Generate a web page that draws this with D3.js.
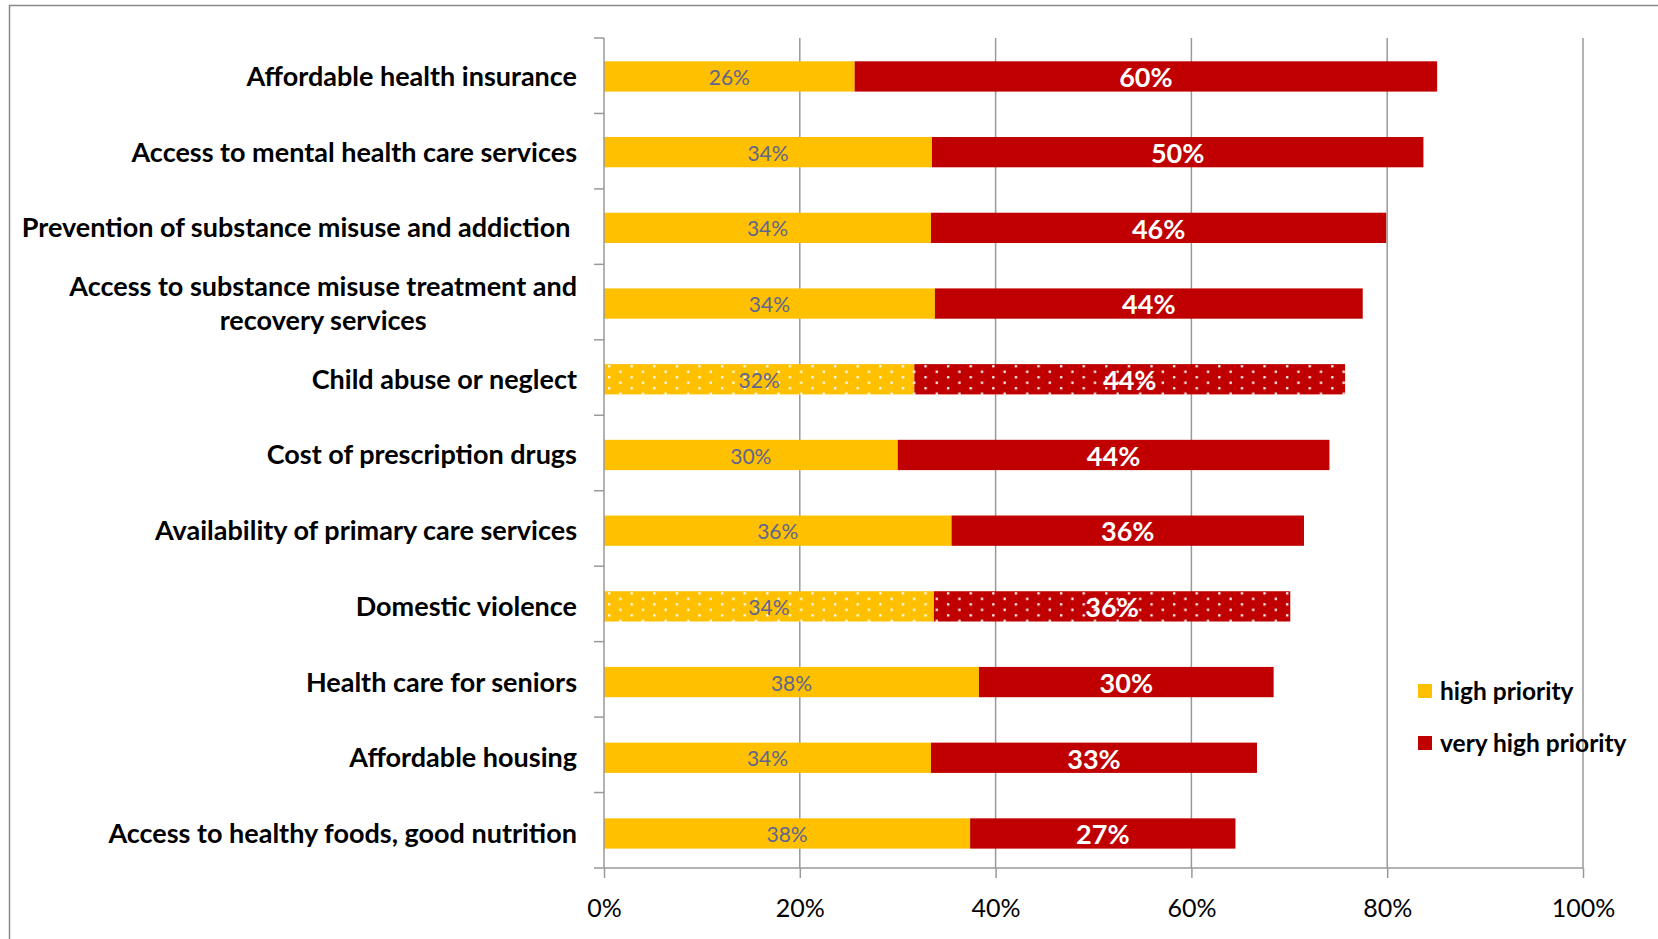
<!DOCTYPE html>
<html lang="en">
<head>
	<meta charset="UTF-8">
	<title>Health priorities</title>
	<style type="text/css">
		body{
			margin: 0;
			background: #fff;
			font-family: Lato, "Open Sans", sans-serif;
		}
		.grid line { stroke: #999; stroke-width: 1.5; }
		.axis path, .axis line { fill: none; stroke: #999; stroke-width: 1.5; }
		.axis text { fill: #000; }
		.cat { font-weight: bold; font-size: 27px; fill: #000; white-space: pre; }
	</style>
	<script src="https://d3js.org/d3.v7.min.js"></script>
</head>
<body>
<script type="text/javascript">
	// chart values
	var categories = [
		"Affordable health insurance",
		"Access to mental health care services",
		"Prevention of substance misuse and addiction ",
		"Access to substance misuse treatment and|recovery services",
		"Child abuse or neglect",
		"Cost of prescription drugs",
		"Availability of primary care services",
		"Domestic violence",
		"Health care for seniors",
		"Affordable housing",
		"Access to healthy foods, good nutrition"
	];
	var highPriority =     [25.6, 33.5, 33.4, 33.8, 31.7, 30.0, 35.5, 33.7, 38.3, 33.4, 37.4];
	var veryHighPriority = [59.5, 50.2, 46.5, 43.7, 44.0, 44.1, 36.0, 36.4, 30.1, 33.3, 27.1];
	var highLabels =     ["26%", "34%", "34%", "34%", "32%", "30%", "36%", "34%", "38%", "34%", "38%"];
	var veryHighLabels = ["60%", "50%", "46%", "44%", "44%", "44%", "36%", "36%", "30%", "33%", "27%"];
	var dotted = ["Child abuse or neglect", "Domestic violence"];
	var seriesNames = ["high priority", "very high priority"];
	var xTicks = [0, 20, 40, 60, 80, 100];

	var fullWidth = 1658, fullHeight = 939;
	var margin = {top: 38, left: 604, right: 75, bottom: 71};
	var width = fullWidth - margin.left - margin.right;
	var height = fullHeight - margin.top - margin.bottom;

	var colors = {high: "#FFC000", veryHigh: "#C00000"};

	var data = categories.map(function(c, i){
		return {cat: c, high: highPriority[i], veryHigh: veryHighPriority[i],
			hl: highLabels[i], vl: veryHighLabels[i], dotted: dotted.indexOf(c) >= 0};
	});

	var svgRoot = d3.select("body").append("svg")
		.attr("width", fullWidth)
		.attr("height", fullHeight);

	// dot pattern for the two highlighted rows
	var defs = svgRoot.append("defs");
	[["dotsHigh", colors.high], ["dotsVeryHigh", colors.veryHigh]].forEach(function(p){
		var pat = defs.append("pattern")
			.attr("id", p[0])
			.attr("patternUnits", "userSpaceOnUse")
			.attr("width", 22.6)
			.attr("height", 11);
		pat.append("rect").attr("width", 22.6).attr("height", 11).attr("fill", p[1]);
		pat.append("rect").attr("x", 4).attr("y", 1).attr("width", 2.3).attr("height", 2.3).attr("fill", "#fff");
		pat.append("rect").attr("x", 15.3).attr("y", 6.5).attr("width", 2.3).attr("height", 2.3).attr("fill", "#fff");
	});

	// outer chart border (runs off the right and bottom edge)
	svgRoot.append("rect")
		.attr("x", 9.5).attr("y", 5.5)
		.attr("width", 1700).attr("height", 1000)
		.attr("fill", "none")
		.attr("stroke", "#888")
		.attr("stroke-width", 1.5);

	var svg = svgRoot.append("g")
		.attr("transform", "translate(" + margin.left + "," + margin.top + ")");

	var x = d3.scaleLinear().domain([0, 100]).range([0, width]);
	// bars sit on a slightly wider step than the tick bands, like the original
	var y = d3.scaleBand().domain(categories).range([0, height])
		.paddingInner(0.6).paddingOuter(0.282).align(0.546);

	// vertical gridlines
	svg.append("g")
		.attr("class", "grid")
		.selectAll("line")
		.data(xTicks.slice(1))
		.enter().append("line")
		.attr("x1", function(d){ return x(d); })
		.attr("x2", function(d){ return x(d); })
		.attr("y1", 0)
		.attr("y2", height);

	// bars
	var rows = svg.selectAll(".row")
		.data(data)
		.enter().append("g")
		.attr("class", "row")
		.attr("transform", function(d){ return "translate(0," + y(d.cat) + ")"; });

	rows.append("rect")
		.attr("x", 0)
		.attr("width", function(d){ return x(d.high); })
		.attr("height", y.bandwidth())
		.attr("fill", function(d){ return d.dotted ? "url(#dotsHigh)" : colors.high; });

	rows.append("rect")
		.attr("x", function(d){ return x(d.high); })
		.attr("width", function(d){ return x(d.veryHigh); })
		.attr("height", y.bandwidth())
		.attr("fill", function(d){ return d.dotted ? "url(#dotsVeryHigh)" : colors.veryHigh; });

	rows.append("text")
		.attr("x", function(d){ return x(d.high / 2); })
		.attr("y", y.bandwidth() / 2 + 1)
		.attr("dy", "0.36em")
		.attr("text-anchor", "middle")
		.style("font-size", "21px")
		.style("fill", "#5f6590")
		.text(function(d){ return d.hl; });

	rows.append("text")
		.attr("x", function(d){ return x(d.high + d.veryHigh / 2); })
		.attr("y", y.bandwidth() / 2 + 1)
		.attr("dy", "0.36em")
		.attr("text-anchor", "middle")
		.style("font-size", "27px")
		.style("font-weight", "bold")
		.style("fill", "#fff")
		.text(function(d){ return d.vl; });

	// y axis: line plus ticks between categories
	var boundaries = d3.range(categories.length + 1).map(function(i){ return i * height / categories.length; });
	var yAxis = svg.append("g").attr("class", "axis");
	yAxis.append("line").attr("x1", 0).attr("x2", 0).attr("y1", 0).attr("y2", height);
	yAxis.selectAll(".tick")
		.data(boundaries.slice(0, -1))
		.enter().append("line")
		.attr("x1", -10).attr("x2", 0)
		.attr("y1", function(d){ return d; })
		.attr("y2", function(d){ return d; });

	// category labels
	svg.selectAll(".cat")
		.data(data)
		.enter().append("text")
		.attr("class", "cat")
		.attr("x", -27)
		.attr("y", function(d){ return y(d.cat) + y.bandwidth() / 2; })
		.attr("text-anchor", "end")
		.each(function(d){
			var lines = d.cat.split("|");
			var t = d3.select(this);
			lines.forEach(function(l, i){
				t.append("tspan")
					.attr("x", -27)
					.attr("dy", i === 0 ? (0.35 - (lines.length - 1) * 0.62) + "em" : "1.25em")
					.text(l);
			});
		});
	// centre the second line of the wrapped label under the first
	svg.selectAll(".cat").filter(function(d){ return d.cat.indexOf("|") >= 0; })
		.each(function(){
			var spans = d3.select(this).selectAll("tspan").nodes();
			var w0 = spans[0].getComputedTextLength();
			var w1 = spans[1].getComputedTextLength();
			d3.select(spans[1]).attr("x", -27 - (w0 - w1) / 2);
		});

	// x axis
	var xAxis = svg.append("g")
		.attr("class", "axis")
		.attr("transform", "translate(0," + height + ")")
		.call(d3.axisBottom(x)
			.tickValues(xTicks)
			.tickSize(10)
			.tickPadding(21)
			.tickFormat(function(d){ return d + "%"; }));
	xAxis.select(".domain").attr("d", "M-10,0H" + width);
	xAxis.selectAll("text")
		.style("font-size", "25px")
		.style("font-family", "Lato, sans-serif");

	// legend
	var legend = svgRoot.append("g")
		.attr("transform", "translate(1418,684)");
	var legItems = legend.selectAll(".leg")
		.data(seriesNames)
		.enter().append("g")
		.attr("transform", function(d, i){ return "translate(0," + (i * 52) + ")"; });
	legItems.append("rect")
		.attr("width", 14).attr("height", 14)
		.attr("fill", function(d, i){ return i === 0 ? colors.high : colors.veryHigh; });
	legItems.append("text")
		.attr("x", 22)
		.attr("y", 7)
		.attr("dy", "0.36em")
		.style("font-size", "24.5px")
		.style("font-weight", "bold")
		.text(function(d){ return d; });
</script>
</body>
</html>
